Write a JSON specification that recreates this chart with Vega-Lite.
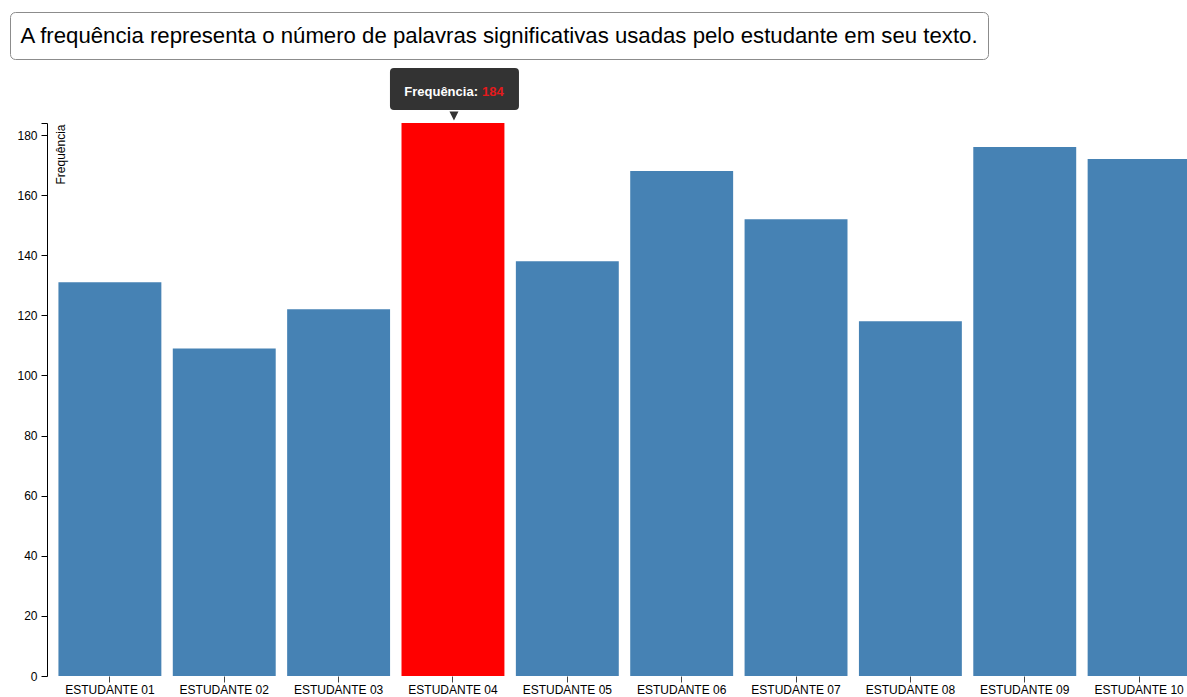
{
  "$schema": "https://vega.github.io/schema/vega-lite/v6.json",
  "padding": {"left": 9, "top": 11, "right": 0, "bottom": 0},
  "spacing": 8,
  "config": {"font": "Liberation Sans", "view": {"stroke": null}},
  "datasets": {
    "frequencias": [
      {"estudante": "ESTUDANTE 01", "frequencia": 131},
      {"estudante": "ESTUDANTE 02", "frequencia": 109},
      {"estudante": "ESTUDANTE 03", "frequencia": 122},
      {"estudante": "ESTUDANTE 04", "frequencia": 184},
      {"estudante": "ESTUDANTE 05", "frequencia": 138},
      {"estudante": "ESTUDANTE 06", "frequencia": 168},
      {"estudante": "ESTUDANTE 07", "frequencia": 152},
      {"estudante": "ESTUDANTE 08", "frequencia": 118},
      {"estudante": "ESTUDANTE 09", "frequencia": 176},
      {"estudante": "ESTUDANTE 10", "frequencia": 172}
    ],
    "legenda": [
      {"texto": "A frequência representa o número de palavras significativas usadas pelo estudante em seu texto."}
    ]
  },
  "vconcat": [
    {
      "width": 978,
      "height": 47,
      "view": {"stroke": "#8c8c8c", "strokeWidth": 1, "cornerRadius": 5},
      "data": {"name": "legenda"},
      "mark": {"type": "text", "fontSize": 22.2, "align": "center", "baseline": "middle", "color": "#000000"},
      "encoding": {"text": {"field": "texto", "type": "nominal"}}
    },
    {
      "width": 1178,
      "height": 553,
      "data": {"name": "frequencias"},
      "encoding": {
        "x": {
          "field": "estudante",
          "type": "nominal",
          "sort": null,
          "scale": {"range": [37, 1192], "paddingInner": 0.1, "paddingOuter": 0.1},
          "axis": {
            "title": null,
            "labelAngle": 0,
            "domain": false,
            "grid": false,
            "tickSize": 6,
            "tickColor": "#444444",
            "labelPadding": 2,
            "labelFontSize": 12,
            "labelColor": "#000000"
          }
        },
        "y": {
          "field": "frequencia",
          "type": "quantitative",
          "scale": {"domain": [0, 184], "nice": false},
          "axis": {
            "title": "Frequência",
            "offset": -37,
            "values": [0, 20, 40, 60, 80, 100, 120, 140, 160, 180, 184],
            "labelExpr": "datum.value == 184 ? '' : datum.label",
            "labelOverlap": false,
            "labelFlush": false,
            "minExtent": 0,
            "maxExtent": 0,
            "grid": false,
            "domainColor": "#000000",
            "tickColor": "#000000",
            "tickSize": 6,
            "labelPadding": 4,
            "labelFontSize": 12,
            "labelColor": "#000000",
            "titleFontSize": 12,
            "titleFontWeight": "normal",
            "titleColor": "#000000",
            "titleAngle": 270,
            "titleAlign": "right",
            "titleBaseline": "alphabetic",
            "titleX": 17,
            "titleY": 1
          }
        }
      },
      "layer": [
        {
          "mark": {"type": "bar", "clip": true},
          "encoding": {
            "color": {
              "condition": {"test": "datum.estudante == 'ESTUDANTE 04'", "value": "#ff0000"},
              "value": "#4682b4"
            }
          }
        },
        {
          "transform": [{"filter": "datum.estudante == 'ESTUDANTE 04'"}],
          "mark": {
            "type": "point",
            "shape": "M-59,-55H62Q66,-55,66,-51V-17Q66,-13,62,-13H-59Q-63,-13,-63,-17V-51Q-63,-55,-59,-55Z M-3.5,-11.5H5.5L1,-2.5Z",
            "size": 4,
            "filled": true,
            "color": "#333333",
            "opacity": 1,
            "strokeWidth": 0
          }
        },
        {
          "transform": [{"filter": "datum.estudante == 'ESTUDANTE 04'"}],
          "mark": {
            "type": "text",
            "text": "Frequência:",
            "align": "right",
            "baseline": "middle",
            "dx": 25,
            "dy": -31,
            "fontSize": 13,
            "fontWeight": "bold",
            "color": "#ffffff"
          }
        },
        {
          "transform": [{"filter": "datum.estudante == 'ESTUDANTE 04'"}],
          "mark": {
            "type": "text",
            "align": "left",
            "baseline": "middle",
            "dx": 29,
            "dy": -31,
            "fontSize": 13,
            "fontWeight": "bold",
            "color": "#e31a1c"
          },
          "encoding": {"text": {"field": "frequencia", "type": "quantitative"}}
        }
      ]
    }
  ]
}
